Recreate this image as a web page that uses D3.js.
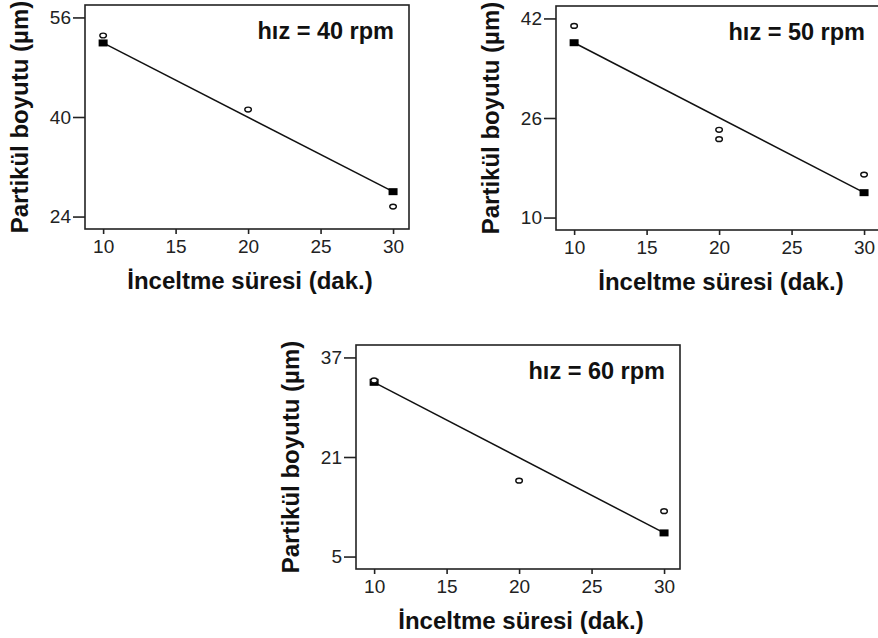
<!DOCTYPE html>
<html>
<head>
<meta charset="utf-8">
<script src="https://cdn.jsdelivr.net/npm/d3@7/dist/d3.min.js"></script>
<style>
  html, body { margin: 0; padding: 0; background: #fff; }
  svg { display: block; }
  text { font-family: "Liberation Sans", Arial, sans-serif; }
</style>
</head>
<body>
<svg id="chart" width="878" height="638"></svg>
<script>
// ---- data ----
const xTicks = [10, 15, 20, 25, 30];
const speedLabels = ["hız = 40 rpm", "hız = 50 rpm", "hız = 60 rpm"];
const yTicks40 = [24, 40, 56];
const yTicks50 = [10, 26, 42];
const yTicks60 = [5, 21, 37];
const obsX40 = [10, 20, 30];
const obsY40 = [53.1, 41.2, 25.6];
const obsX50 = [10, 20, 20, 30];
const obsY50 = [40.8, 24.1, 22.6, 16.9];
const obsX60 = [10, 20, 30];
const obsY60 = [33.3, 17.2, 12.3];
const fitX = [10, 30];
const fitY40 = [51.9, 28.0];
const fitY50 = [38.1, 14.0];
const fitY60 = [33.0, 8.8];
const xLabel = "İnceltme süresi (dak.)";
const yLabel = "Partikül boyutu (µm)";

// ---- layout ----
const panels = [
  { left: 85, top: 5, right: 409, bottom: 229, yTicks: yTicks40, ox: obsX40, oy: obsY40, fy: fitY40, label: speedLabels[0] },
  { left: 556, top: 6, right: 880, bottom: 230, yTicks: yTicks50, ox: obsX50, oy: obsY50, fy: fitY50, label: speedLabels[1] },
  { left: 356, top: 345, right: 680, bottom: 569, yTicks: yTicks60, ox: obsX60, oy: obsY60, fy: fitY60, label: speedLabels[2] }
];

const svg = d3.select("#chart");

panels.forEach(p => {
  const g = svg.append("g");
  const yMin = d3.min(p.yTicks), yMax = d3.max(p.yTicks);
  const x = d3.scaleLinear().domain([8.75, 31.1]).range([p.left, p.right]);
  const y = d3.scaleLinear().domain([yMin - 2, yMax + 2]).range([p.bottom, p.top]);

  // frame
  g.append("rect")
    .attr("x", p.left).attr("y", p.top)
    .attr("width", p.right - p.left).attr("height", p.bottom - p.top)
    .attr("fill", "none").attr("stroke", "#222").attr("stroke-width", 1.6);

  // axes
  const xAxis = g.append("g").attr("transform", `translate(0,${p.bottom})`)
    .call(d3.axisBottom(x).tickValues(xTicks).tickSize(5).tickPadding(6).tickFormat(d3.format("d")));
  const yAxis = g.append("g").attr("transform", `translate(${p.left},0)`)
    .call(d3.axisLeft(y).tickValues(p.yTicks).tickSize(12).tickPadding(2).tickFormat(d3.format("d")));
  [xAxis, yAxis].forEach(a => {
    a.attr("font-size", 19).attr("font-family", "'Liberation Sans', Arial, sans-serif");
    a.select(".domain").remove();
    a.selectAll(".tick line").attr("stroke", "#222").attr("stroke-width", 1.6);
    a.selectAll(".tick text").attr("fill", "#222").attr("font-size", 19).style("font-size", "19px");
  });

  // fit line
  const line = d3.line().x((d, i) => x(fitX[i])).y(d => y(d));
  g.append("path").datum(p.fy).attr("d", line)
    .attr("fill", "none").attr("stroke", "#111").attr("stroke-width", 1.5);

  // fitted squares
  g.selectAll("rect.fit").data(p.fy).enter().append("rect")
    .attr("class", "fit")
    .attr("x", (d, i) => x(fitX[i]) - 4.5).attr("y", d => y(d) - 3.5)
    .attr("width", 9).attr("height", 7).attr("fill", "#000");

  // observed circles
  g.selectAll("ellipse.obs").data(p.oy).enter().append("ellipse")
    .attr("class", "obs")
    .attr("cx", (d, i) => x(p.ox[i])).attr("cy", d => y(d))
    .attr("rx", 3.3).attr("ry", 2.4)
    .attr("fill", "#fff").attr("stroke", "#111").attr("stroke-width", 1.4);

  // annotation
  g.append("text").attr("x", p.right - 15).attr("y", p.top + 34)
    .attr("text-anchor", "end").style("font-size", "23.5px").style("font-weight", "bold")
    .attr("fill", "#111").text(p.label);

  // axis labels
  g.append("text").attr("x", (p.left + p.right) / 2 + 3).attr("y", p.bottom + 60)
    .attr("text-anchor", "middle").style("font-size", "24px").style("font-weight", "bold")
    .attr("fill", "#111").text(xLabel);
  g.append("text")
    .attr("transform", `translate(${p.left - 57},${(p.top + p.bottom) / 2}) rotate(-90)`)
    .attr("text-anchor", "middle").style("font-size", "24px").style("font-weight", "bold")
    .attr("fill", "#111").text(yLabel);
});
</script>
</body>
</html>
